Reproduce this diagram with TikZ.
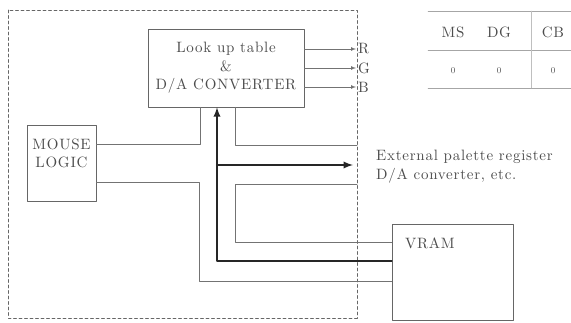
\documentclass[tikz,border=0pt]{standalone}
\usepackage{fontspec}
\newfontfamily\spacedrm{lmroman10-regular.otf}[LetterSpace=5]
\usetikzlibrary{arrows,calc,positioning}
\begin{document}
\begin{tikzpicture}[x=1pt, y=-1pt, line join=round, line cap=round,
	font=\spacedrm\fontsize{15}{18.5}\selectfont,
	wire/.style={draw=black!55, line width=0.7pt},
	bus/.style={draw=black!85, line width=2.2pt},
	blk/.style={draw=black!60, line width=0.7pt, text=black!70, inner sep=0pt},
	txt/.style={text=black!70, inner sep=0pt}]
	\useasboundingbox (0,0) rectangle (571,323);
	\draw[black!60, dash pattern=on 3pt off 2.5pt, line width=0.6pt] (8,10) rectangle (357,318);
	\node[blk, minimum width=156pt, minimum height=78pt, align=center] (lut) at (226,68) {Look up table\\\&\\D/A CONVERTER};
	\node[blk, minimum width=69pt, minimum height=76pt] (mouse) at (61.5,163) {};
	\node[txt, align=center, below=14pt of mouse.north] (mouselbl) {MOUSE\\LOGIC};
	\node[blk, minimum width=121pt, minimum height=96pt] (vram) at (452.5,272) {};
	\node[txt, anchor=west] (vramlbl) at (405,243) {VRAM};
	\node[txt, align=left, anchor=west] (ext) at (376,166.5) {External palette register\\D/A converter, etc.};
	\foreach \x\y\t in {200/144/m1,199/182/m2,199/281/m3,217/165/t1,217/261/t2,353/165/t3,
		235/145/c1,357/145/c2,235/184/v1,357/184/v2,235/242/v3}
	\coordinate (\t) at (\x,\y);
	\foreach \y\t in {49/R,68/G,87/B}{
		\node[txt, anchor=west, inner xsep=2pt] (l\t) at (356,\y) {\t};
		\draw[wire,-latex] (lut.east|-l\t) -- (l\t.west);}
	\draw[wire] (mouse.east|-m1) -- (m1) -- (m1|-lut.south);
	\draw[wire] (lut.south-|c1) -- (c1) -- (c2);
	\draw[wire] (mouse.east|-m2) -| (m3) -- (vram.west|-m3);
	\draw[wire] (vram.west|-v3) -| (v1) -- (v2);
	\draw[bus,-latex] (vram.west|-t2) -| (lut.south-|t2);
	\draw[bus,-latex] (t1) -- (t3);
	% table at top right
	\foreach \y in {11,50,88} \draw[black!35, line width=0.5pt] (428,\y) -- (571,\y);
	\draw[black!25, line width=0.4pt] (531,11) -- (531,88);
	\foreach \x\t\n in {453/MS/ms,499/DG/dg,553/CB/cb}{
		\node[txt] (\n) at (\x,32) {\t};
		\node[txt, font=\spacedrm\small] (\n0) at (\x,71) {0};}
\end{tikzpicture}
\end{document}
